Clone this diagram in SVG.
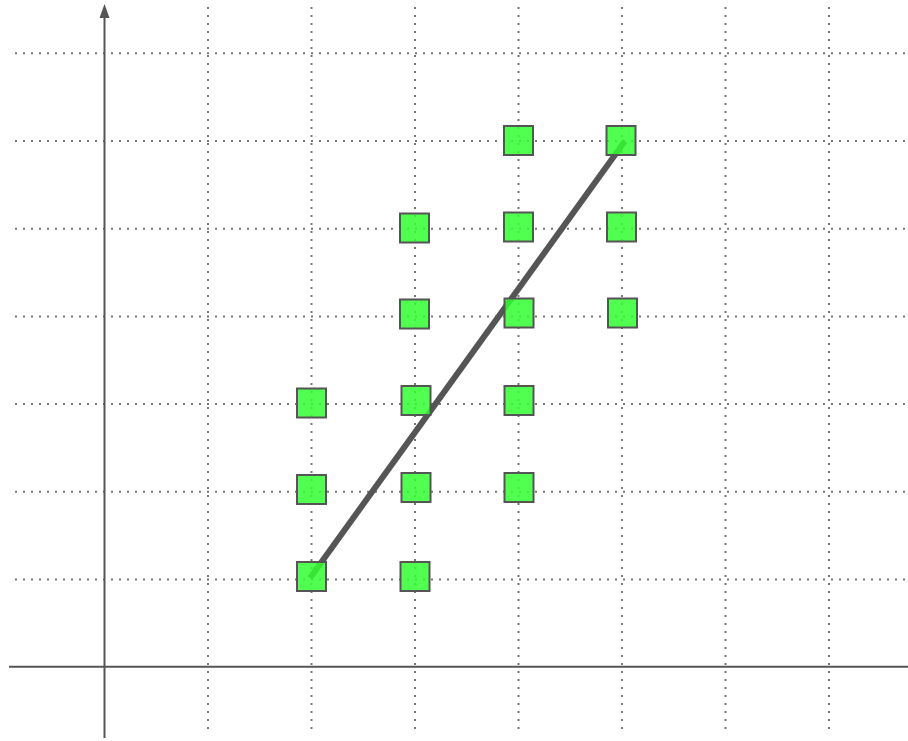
<svg xmlns="http://www.w3.org/2000/svg" width="908" height="741" viewBox="0 0 908 741">
<style>
.grid{stroke:#777;stroke-width:2;stroke-dasharray:2 6;fill:none}
.axis{stroke:#555;stroke-width:2;fill:none}
.sq{fill:#33ff33;fill-opacity:0.85;stroke:#555;stroke-width:2}
</style>
<defs>
<marker id="arr" markerWidth="10" markerHeight="14" refX="5" refY="13" orient="auto" markerUnits="userSpaceOnUse" viewBox="0 0 10 14">
<path d="M0,14 L5,0 L10,14 Z" fill="#555"/>
</marker>
</defs>
<rect width="908" height="741" fill="#fff"/>
<g id="grid">
<line class="grid" x1="15" y1="53.3" x2="908" y2="53.3"/>
<line class="grid" x1="15" y1="141" x2="908" y2="141"/>
<line class="grid" x1="15" y1="228.7" x2="908" y2="228.7"/>
<line class="grid" x1="15" y1="316.4" x2="908" y2="316.4"/>
<line class="grid" x1="15" y1="404.1" x2="908" y2="404.1"/>
<line class="grid" x1="15" y1="491.8" x2="908" y2="491.8"/>
<line class="grid" x1="15" y1="579.5" x2="908" y2="579.5"/>
<line class="grid" x1="208" y1="7" x2="208" y2="730"/>
<line class="grid" x1="311.5" y1="7" x2="311.5" y2="730"/>
<line class="grid" x1="415" y1="7" x2="415" y2="730"/>
<line class="grid" x1="518.5" y1="7" x2="518.5" y2="730"/>
<line class="grid" x1="622" y1="7" x2="622" y2="730"/>
<line class="grid" x1="725.5" y1="7" x2="725.5" y2="730"/>
<line class="grid" x1="829" y1="7" x2="829" y2="730"/>
</g>
<g id="axes">
<line class="axis" x1="9" y1="666.7" x2="908" y2="666.7"/>
<line class="axis" x1="104.5" y1="738" x2="104.5" y2="17"/>
<path d="M104.5,4 L109.5,18 L99.5,18 Z" fill="#555"/>
</g>
<g id="connectors">
<line x1="310" y1="578" x2="625" y2="141" stroke="#555" stroke-width="6"/>
</g>
<g id="squares">
<rect id="s1" class="sq" x="504" y="126" width="29" height="29"/>
<rect id="s2" class="sq" x="606.5" y="126" width="29" height="29"/>
<rect id="s3" class="sq" x="400" y="213.5" width="29" height="29"/>
<rect id="s4" class="sq" x="504" y="212.5" width="29" height="29"/>
<rect id="s5" class="sq" x="607" y="212.5" width="29" height="29"/>
<rect id="s6" class="sq" x="400" y="299.5" width="29" height="29"/>
<rect id="s7" class="sq" x="504.5" y="298.5" width="29" height="29"/>
<rect id="s8" class="sq" x="608" y="298.5" width="29" height="29"/>
<rect id="s9" class="sq" x="297" y="388.5" width="29" height="29"/>
<rect id="s10" class="sq" x="401.5" y="386" width="29" height="29"/>
<rect id="s11" class="sq" x="504.5" y="386" width="29" height="29"/>
<rect id="s12" class="sq" x="297" y="475" width="29" height="29"/>
<rect id="s13" class="sq" x="401.5" y="473" width="29" height="29"/>
<rect id="s14" class="sq" x="504.5" y="473" width="29" height="29"/>
<rect id="s15" class="sq" x="297" y="562" width="29" height="29"/>
<rect id="s16" class="sq" x="400.5" y="562" width="29" height="29"/>
</g>
</svg>
